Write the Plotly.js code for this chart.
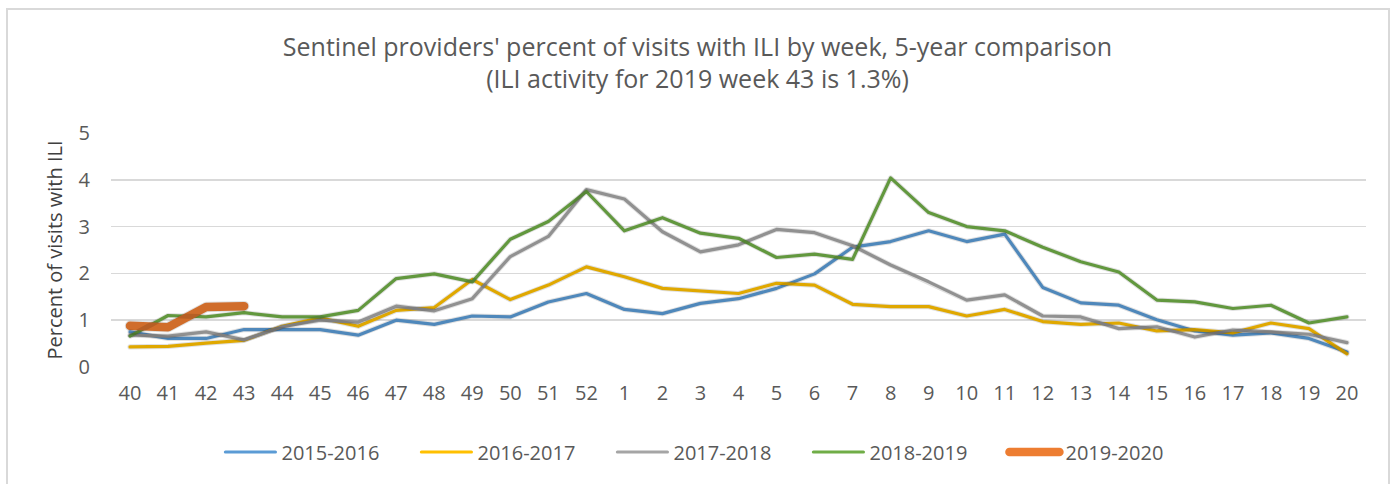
<!DOCTYPE html>
<html>
<head>
<meta charset="utf-8">
<script src="https://cdn.plot.ly/plotly-3.0.1.min.js"></script>
<style>
  html, body { margin: 0; padding: 0; background: #fff; }
  #frame { position: absolute; left: 6px; top: 8px; width: 1384px; height: 490px; border: 2px solid #d9d9d9; box-sizing: border-box; }
  #chart { position: absolute; left: 0; top: 0; width: 1395px; height: 484px; }
  #chart .scatterlayer .js-line, #chart .legend path { stroke-linecap: round; stroke-linejoin: round; }
</style>
</head>
<body>
<div id="frame"></div>
<div id="chart"></div>
<script>
const weeks = ["40","41","42","43","44","45","46","47","48","49","50","51","52","1","2","3","4","5","6","7","8","9","10","11","12","13","14","15","16","17","18","19","20"];

const s2015 = [0.75,0.61,0.61,0.80,0.80,0.80,0.68,1.00,0.91,1.09,1.07,1.39,1.57,1.23,1.14,1.36,1.46,1.68,1.99,2.56,2.68,2.91,2.68,2.84,1.70,1.37,1.32,1.01,0.77,0.68,0.73,0.61,0.32];
const s2016 = [0.43,0.44,0.51,0.57,0.87,1.05,0.87,1.21,1.27,1.87,1.44,1.75,2.14,1.93,1.68,1.63,1.57,1.79,1.75,1.34,1.29,1.29,1.09,1.23,0.97,0.91,0.94,0.77,0.80,0.73,0.94,0.82,0.28];
const s2017 = [0.68,0.66,0.75,0.58,0.86,1.00,0.96,1.30,1.20,1.46,2.36,2.79,3.79,3.59,2.89,2.46,2.61,2.94,2.87,2.59,2.18,1.82,1.43,1.54,1.09,1.07,0.82,0.86,0.64,0.79,0.75,0.70,0.52];
const s2018 = [0.66,1.10,1.07,1.16,1.07,1.07,1.21,1.89,1.99,1.82,2.73,3.11,3.75,2.91,3.19,2.86,2.75,2.34,2.41,2.30,4.04,3.30,3.00,2.91,2.56,2.25,2.03,1.43,1.39,1.25,1.32,0.94,1.07];
const s2019 = [0.88,0.85,1.28,1.30];

const names = ["2015-2016","2016-2017","2017-2018","2018-2019","2019-2020"];
const series = [s2015, s2016, s2017, s2018, s2019];
const colors = ["#5b9bd5","#ffc000","#a5a5a5","#70ad47","#ed7d31"];
const widths = [3.2, 3.2, 3.2, 3.2, 8.5];

const traces = [];
// soft shadows
series.forEach((s, i) => {
  traces.push({
    x: weeks.slice(0, s.length), y: s, type: "scatter", mode: "lines",
    xaxis: "x2", yaxis: "y2", showlegend: false, hoverinfo: "skip",
    line: { color: "rgba(0,0,0,0.12)", width: widths[i] + 2, shape: "linear" }
  });
});
series.forEach((s, i) => {
  traces.push({
    x: weeks.slice(0, s.length), y: s, type: "scatter", mode: "lines",
    name: names[i],
    line: { color: colors[i], width: widths[i], shape: "linear" }
  });
});

const ml = 111, mr = 29, mt = 133, mb = 117;
const W = 1395, H = 484;
const pw = W - ml - mr, ph = H - mt - mb;
const dx = 2 / pw, dy = 2 / ph;

const layout = {
  width: W, height: H,
  margin: { l: ml, r: mr, t: mt, b: mb, autoexpand: false },
  paper_bgcolor: "rgba(0,0,0,0)",
  plot_bgcolor: "rgba(0,0,0,0)",
  font: { family: "Open Sans, sans-serif", color: "#595959" },
  title: {
    text: "Sentinel providers' percent of visits with ILI by week, 5-year comparison<br>(ILI activity for 2019 week 43 is 1.3%)",
    font: { size: 25, color: "#595959", family: "Open Sans, sans-serif" },
    x: 0.5, xanchor: "center", y: 0.885, yanchor: "top"
  },
  xaxis: {
    type: "category", categoryorder: "array", categoryarray: weeks,
    range: [-0.5, 32.5], showgrid: false, zeroline: false,
    showline: false, ticks: "", ticklabelstandoff: 12,
    tickfont: { size: 20, color: "#595959" },
    fixedrange: true
  },
  yaxis: {
    range: [0, 5], dtick: 1, tick0: 0, showgrid: true, gridcolor: "#d9d9d9", gridwidth: 1.5,
    zeroline: false, showline: false, ticks: "", ticklabelstandoff: 20,
    tickfont: { size: 20, color: "#595959" },
    title: { text: "Percent of visits with ILI", font: { size: 20, color: "#404040" }, standoff: 10 }
  },
  xaxis2: {
    type: "category", categoryorder: "array", categoryarray: weeks,
    range: [-0.5, 32.5], overlaying: "x", anchor: "y2",
    domain: [dx, 1 + dx], visible: false
  },
  yaxis2: {
    range: [0, 5], overlaying: "y", anchor: "x2",
    domain: [-dy, 1 - dy], visible: false
  },
  legend: {
    orientation: "h", x: 0.088, xanchor: "left", y: -0.28, yanchor: "top",
    font: { size: 20, color: "#595959" },
    entrywidth: 131, itemwidth: 50, traceorder: "normal"
  },
  showlegend: true
};

Plotly.newPlot("chart", traces, layout, { displayModeBar: false, staticPlot: true }).then(gd => {
  // lengthen legend line symbols to match the reference
  gd.querySelectorAll(".legend .legendlines path").forEach(p => p.setAttribute("d", "M4,0h50"));
});
</script>
</body>
</html>
